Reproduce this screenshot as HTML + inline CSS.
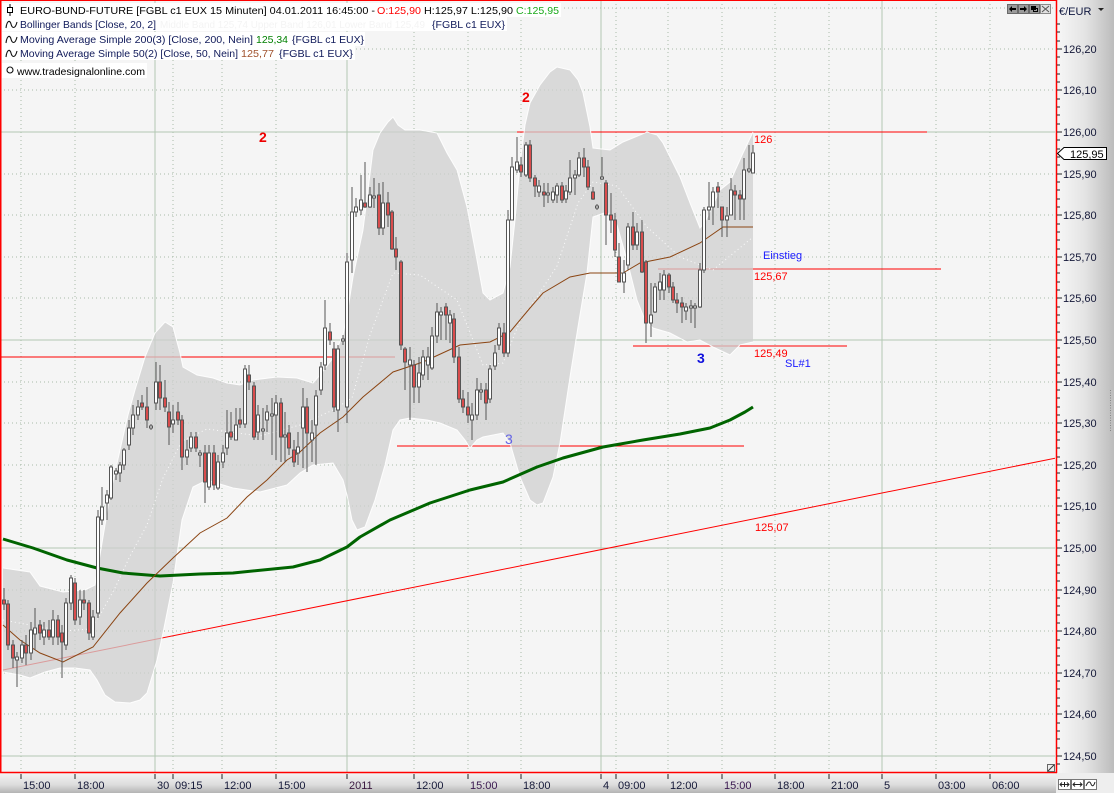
<!DOCTYPE html>
<html><head><meta charset="utf-8"><style>
html,body{margin:0;padding:0;background:#f5f5f5;}
svg{display:block;}
text{font-family:"Liberation Sans",Arial,sans-serif;}
</style></head><body>
<svg width="1114" height="793" viewBox="0 0 1114 793" xmlns="http://www.w3.org/2000/svg">
<defs>
<linearGradient id="ax" x1="0" y1="0" x2="1" y2="0"><stop offset="0" stop-color="#f7f7f7"/><stop offset="0.5" stop-color="#e4e4e4"/><stop offset="1" stop-color="#bcbcbc"/></linearGradient>
<linearGradient id="bx" x1="0" y1="0" x2="0" y2="1"><stop offset="0" stop-color="#f4f4f4"/><stop offset="0.6" stop-color="#dcdcdc"/><stop offset="1" stop-color="#b4b4b4"/></linearGradient>
<clipPath id="pc"><rect x="0" y="0" width="1055" height="772"/></clipPath>
</defs>
<rect x="0" y="0" width="1056" height="773" fill="#f5f5f5"/>
<g clip-path="url(#pc)">
<g stroke="#a9bba9" stroke-width="1" stroke-dasharray="1,3" shape-rendering="crispEdges">
<path d="M0 8H1055M0 49H1055M0 90H1055M0 174H1055M0 215H1055M0 257H1055M0 298H1055M0 382H1055M0 423H1055M0 465H1055M0 506H1055M0 590H1055M0 631H1055M0 673H1055M0 714H1055"/>
<path d="M21 0V772M75 0V772M173 0V772M222 0V772M276 0V772M414 0V772M468 0V772M521 0V772M616 0V772M668 0V772M722 0V772M775 0V772M829 0V772M936 0V772M990 0V772"/>
</g>
<g stroke="#b2c8b2" stroke-width="1" shape-rendering="crispEdges">
<path d="M0 132H1055M0 340H1055M0 548H1055M0 756H1055M155 0V772M347 0V772M601 0V772M882 0V772"/>
</g>
<g stroke="#ff0000" stroke-width="1" fill="none">
<path shape-rendering="crispEdges" d="M0 357H395M517 132H927M397 446H744M658 269H941M633 346H847"/>
<path d="M3 670L1056 458"/>
</g>
<polygon fill="#cfcfcf" fill-opacity="0.75" points="3,568 30,572 40,586 63,592 85,590 95,585 100,555 110,495 120,450 128,415 135,390 145,357 155,333 165,322 173,327 180,353 183,367 197,375 213,378 227,383 240,385 253,380 277,377 297,378 313,383 320,375 333,358 343,335 347,315 353,277 363,230 373,150 380,133 388,122 393,117 398,125 405,130 420,130 437,133 447,153 457,170 467,207 477,260 483,293 490,300 503,293 510,267 515,220 520,165 525,125 530,103 540,85 550,72 557,67 570,70 578,80 583,93 590,127 593,148 610,150 623,142 640,135 647,132 657,135 663,143 680,177 690,203 700,228 705,222 720,190 730,182 743,153 753,132 753,342 740,345 730,355 713,347 700,340 687,342 670,333 653,328 645,320 637,300 627,260 617,225 607,212 593,217 587,273 578,327 570,377 560,443 553,477 543,503 537,505 530,500 520,477 510,443 503,433 483,437 477,440 470,448 465,440 457,430 440,423 427,420 410,418 400,420 393,430 385,465 375,500 365,527 357,530 352,520 347,495 343,480 333,463 313,465 300,473 287,485 260,492 233,488 207,480 193,487 182,520 173,583 163,633 157,660 147,693 140,700 130,703 115,702 105,695 97,680 90,670 75,668 60,668 45,672 30,678 20,675 3,672"/>
<g fill="none" stroke="#ffffff" stroke-width="1" stroke-opacity="0.9">
<polyline points="3,568 30,572 40,586 63,592 85,590 95,585 100,555 110,495 120,450 128,415 135,390 145,357 155,333 165,322 173,327 180,353 183,367 197,375 213,378 227,383 240,385 253,380 277,377 297,378 313,383 320,375 333,358 343,335 347,315 353,277 363,230 373,150 380,133 388,122 393,117 398,125 405,130 420,130 437,133 447,153 457,170 467,207 477,260 483,293 490,300 503,293 510,267 515,220 520,165 525,125 530,103 540,85 550,72 557,67 570,70 578,80 583,93 590,127 593,148 610,150 623,142 640,135 647,132 657,135 663,143 680,177 690,203 700,228 705,222 720,190 730,182 743,153 753,132"/>
<polyline points="753,342 740,345 730,355 713,347 700,340 687,342 670,333 653,328 645,320 637,300 627,260 617,225 607,212 593,217 587,273 578,327 570,377 560,443 553,477 543,503 537,505 530,500 520,477 510,443 503,433 483,437 477,440 470,448 465,440 457,430 440,423 427,420 410,418 400,420 393,430 385,465 375,500 365,527 357,530 352,520 347,495 343,480 333,463 313,465 300,473 287,485 260,492 233,488 207,480 193,487 182,520 173,583 163,633 157,660 147,693 140,700 130,703 115,702 105,695 97,680 90,670 75,668 60,668 45,672 30,678 20,675 3,672"/>
<polyline stroke-dasharray="1,3" points="3,620 30,625 63,631 90,629 100,615 115,588 130,556 147,525 163,478 182,441 207,429 260,436 300,425 333,410 352,398 370,335 393,273 420,275 457,300 483,365 503,363 520,321 537,297 557,266 578,203 593,182 617,186 647,227 680,257 713,270 753,237"/>
</g>
<polyline fill="none" stroke="#006400" stroke-width="3" stroke-linejoin="round" points="3,539 33,548 67,560 97,568 123,573 160,576 200,574 233,573 293,567 320,560 347,547 360,537 390,520 430,503 470,490 503,482 537,467 563,458 603,447 643,440 680,434 710,428 730,420 745,412 753,407"/>
<polyline fill="none" stroke="#8b4513" stroke-width="1" points="3,625 20,640 40,653 63,662 93,647 120,613 147,583 173,558 200,533 227,518 247,497 267,480 287,460 300,452 320,433 343,417 363,397 393,372 423,362 460,345 490,342 510,332 530,308 543,293 570,277 590,273 623,273 640,263 670,257 700,243 723,227 737,227 753,227"/>
<path fill="none" stroke="#555" stroke-width="1" shape-rendering="crispEdges" d="M4 588V610M8 600V650M13 640V668M17 652V687M22 640V663M26 635V665M31 622V660M35 608V650M40 620V640M44 622V645M49 620V640M53 610V645M58 615V645M62 625V678M66 598V650M71 575V610M75 578V625M80 590V625M84 590V610M89 600V640M93 610V640M98 510V618M102 487V525M107 490V520M111 465V500M116 468V480M120 462V482M124 448V470M129 420V450M133 405V435M138 400V420M142 395V410M147 387V428M151 424V430M156 362V410M160 365V410M165 380V412M169 402V445M173 405V433M178 402V425M182 415V470M187 440V465M191 432V452M196 432V452M200 450V467M205 445V503M209 445V490M214 445V490M218 455V490M223 445V468M227 410V455M231 412V440M236 408V440M240 408V428M245 365V428M249 365V390M254 382V440M258 405V440M263 408V440M267 405V432M272 398V455M276 395V460M281 398V462M285 412V462M289 425V455M294 440V467M298 432V465M303 388V468M307 398V472M312 420V462M316 390V465M321 362V395M325 300V370M330 323V345M334 342V412M338 345V432M343 335V345M347 253V423M352 187V273M356 198V217M361 175V215M365 162V208M370 187V208M374 178V208M379 183V235M383 182V235M388 192V227M392 210V250M396 237V270M401 260V350M405 347V390M410 347V420M414 360V403M419 357V403M423 350V380M428 347V380M432 327V370M437 303V343M441 307V340M446 303V340M450 310V343M454 313V363M459 347V403M463 390V413M468 392V423M472 403V440M477 378V420M481 383V400M486 383V420M490 365V403M495 345V370M499 323V350M504 323V357M508 210V357M512 157V220M517 137V173M521 157V177M526 142V177M530 140V182M535 175V197M539 180V197M544 183V207M548 183V203M553 187V203M557 183V203M562 182V203M566 185V203M570 160V195M575 170V195M579 152V177M584 148V177M588 160V190M593 187V200M597 204V210M602 157V180M606 180V245M611 193V233M615 213V257M619 243V282M624 260V293M628 223V270M633 212V250M637 223V250M642 220V273M646 260V343M651 283V337M655 283V313M660 273V300M664 270V300M669 273V293M673 282V303M677 293V313M682 297V323M686 303V320M691 300V323M695 303V328M700 263V308M704 207V273M709 182V220M713 187V225M718 182V208M722 207V237M727 207V237M731 178V215M735 185V220M740 190V220M744 158V220M749 145V173M753 145V173"/>
<g fill="#ffffff" stroke="#555" stroke-width="1" shape-rendering="crispEdges">
<rect x="15.5" y="657" width="3" height="3"/><rect x="20.5" y="645" width="3" height="13"/><rect x="29.5" y="630" width="3" height="23"/><rect x="33.5" y="628" width="3" height="6"/><rect x="42.5" y="630" width="3" height="7"/><rect x="51.5" y="620" width="3" height="17"/><rect x="64.5" y="603" width="3" height="42"/><rect x="69.5" y="578" width="3" height="25"/><rect x="78.5" y="600" width="3" height="17"/><rect x="91.5" y="617" width="3" height="20"/><rect x="96.5" y="517" width="3" height="96"/><rect x="100.5" y="507" width="3" height="13"/><rect x="105.5" y="495" width="3" height="8"/><rect x="109.5" y="467" width="3" height="31"/><rect x="114.5" y="471" width="3" height="3"/><rect x="118.5" y="465" width="3" height="8"/><rect x="122.5" y="450" width="3" height="15"/><rect x="127.5" y="428" width="3" height="17"/><rect x="131.5" y="415" width="3" height="13"/><rect x="136.5" y="407" width="3" height="8"/><rect x="149.5" y="426" width="3" height="2"/><rect x="154.5" y="382" width="3" height="21"/><rect x="171.5" y="420" width="3" height="4"/><rect x="185.5" y="450" width="3" height="7"/><rect x="189.5" y="437" width="3" height="11"/><rect x="198.5" y="453" width="3" height="2"/><rect x="207.5" y="453" width="3" height="34"/><rect x="216.5" y="462" width="3" height="26"/><rect x="221.5" y="453" width="3" height="9"/><rect x="225.5" y="433" width="3" height="15"/><rect x="234.5" y="425" width="3" height="15"/><rect x="243.5" y="369" width="3" height="55"/><rect x="256.5" y="415" width="3" height="17"/><rect x="261.5" y="429" width="3" height="2"/><rect x="265.5" y="412" width="3" height="8"/><rect x="270.5" y="414" width="3" height="2"/><rect x="274.5" y="403" width="3" height="12"/><rect x="283.5" y="435" width="3" height="2"/><rect x="296.5" y="447" width="3" height="6"/><rect x="301.5" y="407" width="3" height="21"/><rect x="310.5" y="433" width="3" height="7"/><rect x="314.5" y="396" width="3" height="29"/><rect x="319.5" y="367" width="3" height="23"/><rect x="323.5" y="328" width="3" height="37"/><rect x="336.5" y="349" width="3" height="61"/><rect x="341.5" y="339" width="3" height="2"/><rect x="345.5" y="262" width="3" height="145"/><rect x="350.5" y="212" width="3" height="48"/><rect x="354.5" y="207" width="3" height="5"/><rect x="359.5" y="200" width="3" height="10"/><rect x="368.5" y="195" width="3" height="12"/><rect x="372.5" y="196" width="3" height="2"/><rect x="381.5" y="203" width="3" height="25"/><rect x="408.5" y="360" width="3" height="5"/><rect x="417.5" y="373" width="3" height="14"/><rect x="421.5" y="357" width="3" height="18"/><rect x="426.5" y="357" width="3" height="8"/><rect x="430.5" y="336" width="3" height="32"/><rect x="435.5" y="312" width="3" height="24"/><rect x="439.5" y="312" width="3" height="3"/><rect x="448.5" y="315" width="3" height="8"/><rect x="470.5" y="415" width="3" height="5"/><rect x="475.5" y="390" width="3" height="25"/><rect x="479.5" y="390" width="3" height="2"/><rect x="488.5" y="369" width="3" height="30"/><rect x="493.5" y="353" width="3" height="13"/><rect x="497.5" y="328" width="3" height="17"/><rect x="506.5" y="220" width="3" height="133"/><rect x="510.5" y="167" width="3" height="53"/><rect x="515.5" y="162" width="3" height="8"/><rect x="524.5" y="145" width="3" height="30"/><rect x="537.5" y="186" width="3" height="6"/><rect x="546.5" y="193" width="3" height="2"/><rect x="551.5" y="192" width="3" height="8"/><rect x="555.5" y="186" width="3" height="9"/><rect x="564.5" y="191" width="3" height="8"/><rect x="568.5" y="178" width="3" height="14"/><rect x="573.5" y="175" width="3" height="3"/><rect x="577.5" y="158" width="3" height="17"/><rect x="595.5" y="206" width="3" height="2"/><rect x="600.5" y="177" width="3" height="2"/><rect x="622.5" y="273" width="3" height="9"/><rect x="626.5" y="227" width="3" height="38"/><rect x="635.5" y="232" width="3" height="13"/><rect x="649.5" y="315" width="3" height="8"/><rect x="653.5" y="287" width="3" height="25"/><rect x="658.5" y="282" width="3" height="8"/><rect x="662.5" y="275" width="3" height="15"/><rect x="684.5" y="307" width="3" height="4"/><rect x="689.5" y="306" width="3" height="2"/><rect x="693.5" y="306" width="3" height="2"/><rect x="698.5" y="270" width="3" height="37"/><rect x="702.5" y="210" width="3" height="60"/><rect x="707.5" y="207" width="3" height="3"/><rect x="711.5" y="192" width="3" height="15"/><rect x="725.5" y="216" width="3" height="4"/><rect x="729.5" y="190" width="3" height="25"/><rect x="742.5" y="170" width="3" height="29"/><rect x="747.5" y="169" width="3" height="2"/><rect x="751.5" y="153" width="3" height="20"/>
</g>
<g fill="#d94c4c" stroke="#555" stroke-width="1" shape-rendering="crispEdges">
<rect x="2.5" y="600" width="3" height="4"/><rect x="6.5" y="604" width="3" height="41"/><rect x="11.5" y="645" width="3" height="13"/><rect x="24.5" y="645" width="3" height="8"/><rect x="38.5" y="625" width="3" height="8"/><rect x="47.5" y="630" width="3" height="7"/><rect x="56.5" y="620" width="3" height="17"/><rect x="60.5" y="633" width="3" height="9"/><rect x="73.5" y="583" width="3" height="37"/><rect x="82.5" y="600" width="3" height="3"/><rect x="87.5" y="603" width="3" height="30"/><rect x="140.5" y="403" width="3" height="4"/><rect x="145.5" y="407" width="3" height="13"/><rect x="158.5" y="382" width="3" height="16"/><rect x="163.5" y="398" width="3" height="9"/><rect x="167.5" y="412" width="3" height="15"/><rect x="176.5" y="412" width="3" height="8"/><rect x="180.5" y="420" width="3" height="37"/><rect x="194.5" y="437" width="3" height="11"/><rect x="203.5" y="453" width="3" height="29"/><rect x="212.5" y="453" width="3" height="32"/><rect x="229.5" y="432" width="3" height="5"/><rect x="238.5" y="420" width="3" height="4"/><rect x="247.5" y="375" width="3" height="7"/><rect x="252.5" y="386" width="3" height="51"/><rect x="279.5" y="403" width="3" height="34"/><rect x="287.5" y="433" width="3" height="15"/><rect x="292.5" y="450" width="3" height="12"/><rect x="305.5" y="407" width="3" height="26"/><rect x="328.5" y="332" width="3" height="8"/><rect x="332.5" y="349" width="3" height="58"/><rect x="363.5" y="203" width="3" height="4"/><rect x="377.5" y="195" width="3" height="33"/><rect x="386.5" y="203" width="3" height="12"/><rect x="390.5" y="212" width="3" height="37"/><rect x="394.5" y="249" width="3" height="8"/><rect x="399.5" y="262" width="3" height="83"/><rect x="403.5" y="349" width="3" height="13"/><rect x="412.5" y="365" width="3" height="22"/><rect x="444.5" y="307" width="3" height="8"/><rect x="452.5" y="319" width="3" height="38"/><rect x="457.5" y="357" width="3" height="42"/><rect x="461.5" y="399" width="3" height="8"/><rect x="466.5" y="407" width="3" height="8"/><rect x="484.5" y="390" width="3" height="13"/><rect x="502.5" y="333" width="3" height="20"/><rect x="519.5" y="165" width="3" height="7"/><rect x="528.5" y="145" width="3" height="33"/><rect x="533.5" y="178" width="3" height="8"/><rect x="542.5" y="192" width="3" height="3"/><rect x="560.5" y="186" width="3" height="14"/><rect x="582.5" y="158" width="3" height="9"/><rect x="586.5" y="167" width="3" height="20"/><rect x="591.5" y="192" width="3" height="7"/><rect x="604.5" y="183" width="3" height="32"/><rect x="609.5" y="215" width="3" height="5"/><rect x="613.5" y="220" width="3" height="30"/><rect x="617.5" y="257" width="3" height="25"/><rect x="631.5" y="227" width="3" height="18"/><rect x="640.5" y="232" width="3" height="40"/><rect x="644.5" y="262" width="3" height="61"/><rect x="667.5" y="275" width="3" height="12"/><rect x="671.5" y="287" width="3" height="13"/><rect x="675.5" y="300" width="3" height="3"/><rect x="680.5" y="303" width="3" height="4"/><rect x="716.5" y="187" width="3" height="5"/><rect x="720.5" y="207" width="3" height="13"/><rect x="733.5" y="191" width="3" height="4"/><rect x="738.5" y="195" width="3" height="4"/>
</g>
<g font-size="14" font-weight="bold">
<text x="259" y="142" fill="#ee0000">2</text>
<text x="522" y="102" fill="#ee0000">2</text>
<text x="505" y="444" fill="#6464e6" font-weight="normal">3</text>
<text x="697" y="363" fill="#1010dd">3</text>
</g>
<g font-size="11">
<text x="754" y="143" fill="#ff0000">126</text>
<text x="763" y="259" fill="#1a1aff">Einstieg</text>
<text x="754" y="280" fill="#ff0000">125,67</text>
<text x="754" y="357" fill="#ff0000">125,49</text>
<text x="785" y="367" fill="#1a1aff">SL#1</text>
<text x="755" y="531" fill="#ff0000">125,07</text>
</g>
</g>
<path d="M0 0.5H1056" stroke="#ff0000" stroke-width="1"/>
<g>
<rect x="2" y="3" width="559" height="14" fill="#ffffff"/>
<rect x="2" y="17" width="505" height="14" fill="#ffffff"/>
<rect x="2" y="32" width="363" height="14" fill="#ffffff"/>
<rect x="2" y="46" width="353" height="14" fill="#ffffff"/>
<rect x="2" y="63" width="145" height="15" fill="#ffffff"/>
<path d="M10 4V16" stroke="#000" stroke-width="1"/>
<rect x="7.5" y="7.5" width="5" height="5" fill="#fff" stroke="#000" stroke-width="1"/>
<g fill="none" stroke="#111" stroke-width="1.1">
<path d="M6 28C7 20 10 20 11 24S15 30 17 22"/>
<path d="M6 43C7 35 10 35 11 39S15 45 17 37"/>
<path d="M6 57C7 49 10 49 11 53S15 59 17 51"/>
<circle cx="10" cy="70" r="3"/>
</g>
<g font-size="10.5">
<text x="20" y="14" fill="#000" textLength="355" lengthAdjust="spacingAndGlyphs">EURO-BUND-FUTURE [FGBL c1 EUX  15 Minuten] 04.01.2011 16:45:00 -</text>
<text x="377" y="14" fill="#ff0000" textLength="44" lengthAdjust="spacingAndGlyphs">O:125,90</text>
<text x="424" y="14" fill="#000" textLength="89" lengthAdjust="spacingAndGlyphs">H:125,97 L:125,90</text>
<text x="516" y="14" fill="#1aaa1a" textLength="43" lengthAdjust="spacingAndGlyphs">C:125,95</text>
<text x="20" y="28" fill="#101a5a" textLength="136" lengthAdjust="spacingAndGlyphs">Bollinger Bands [Close, 20, 2]</text>
<text x="160" y="28" fill="#f4f4f4" textLength="265" lengthAdjust="spacingAndGlyphs">Middle Band 125,74 Upper Band 126,01 Lower Band 125,49</text>
<text x="432" y="28" fill="#101a5a" textLength="73" lengthAdjust="spacingAndGlyphs">{FGBL c1 EUX}</text>
<text x="20" y="43" fill="#101a5a" textLength="233" lengthAdjust="spacingAndGlyphs">Moving Average Simple 200(3) [Close, 200, Nein]</text>
<text x="256" y="43" fill="#008000" textLength="32" lengthAdjust="spacingAndGlyphs">125,34</text>
<text x="292" y="43" fill="#101a5a" textLength="72" lengthAdjust="spacingAndGlyphs">{FGBL c1 EUX}</text>
<text x="20" y="57" fill="#101a5a" textLength="218" lengthAdjust="spacingAndGlyphs">Moving Average Simple 50(2) [Close, 50, Nein]</text>
<text x="241" y="57" fill="#a0522d" textLength="33" lengthAdjust="spacingAndGlyphs">125,77</text>
<text x="279" y="57" fill="#101a5a" textLength="74" lengthAdjust="spacingAndGlyphs">{FGBL c1 EUX}</text>
<text x="17" y="75" fill="#000" textLength="128" lengthAdjust="spacingAndGlyphs">www.tradesignalonline.com</text>
</g>
</g>
<g shape-rendering="crispEdges">
<rect x="1007.5" y="4.5" width="10" height="9" fill="#9a9a9a" stroke="#6a6a6a"/>
<rect x="1018.5" y="4.5" width="10" height="9" fill="#9a9a9a" stroke="#6a6a6a"/>
<rect x="1029.5" y="4.5" width="10" height="9" fill="#9a9a9a" stroke="#6a6a6a"/>
<rect x="1040.5" y="4.5" width="10" height="9" fill="#e0e0e0" stroke="#8a8a8a"/>
</g>
<path d="M1009 9L1012 6V8H1016V10H1012V12Z" fill="#000"/>
<path d="M1027 9L1024 6V8H1020V10H1024V12Z" fill="#000"/>
<rect x="1033.5" y="8.5" width="4" height="3" fill="none" stroke="#000"/>
<rect x="1031.5" y="6.5" width="4" height="3" fill="#000" stroke="#000"/>
<path d="M1042 6L1049 12M1049 6L1042 12" stroke="#555" stroke-width="1"/>
<rect x="1056" y="0" width="58" height="793" fill="url(#ax)"/>
<path d="M1056.5 0V773" stroke="#ff0000" stroke-width="1.5"/>
<text x="1059" y="15" font-size="11" fill="#101840">€/EUR</text>
<path d="M1098 8H1104L1101 11Z" fill="#222"/>
<path stroke="#222" stroke-width="1" shape-rendering="crispEdges" fill="none" d="M1057 24h3M1057 32h3M1057 41h3M1057 49h5M1057 57h3M1057 65h3M1057 74h3M1057 82h3M1057 90h5M1057 99h3M1057 107h3M1057 115h3M1057 124h3M1057 132h5M1057 140h3M1057 149h3M1057 157h3M1057 165h3M1057 174h5M1057 182h3M1057 190h3M1057 199h3M1057 207h3M1057 215h5M1057 224h3M1057 232h3M1057 240h3M1057 249h3M1057 257h5M1057 265h3M1057 273h3M1057 282h3M1057 290h3M1057 298h5M1057 307h3M1057 315h3M1057 323h3M1057 332h3M1057 340h5M1057 348h3M1057 357h3M1057 365h3M1057 373h3M1057 382h5M1057 390h3M1057 398h3M1057 407h3M1057 415h3M1057 423h5M1057 432h3M1057 440h3M1057 448h3M1057 457h3M1057 465h5M1057 473h3M1057 481h3M1057 490h3M1057 498h3M1057 506h5M1057 515h3M1057 523h3M1057 531h3M1057 540h3M1057 548h5M1057 556h3M1057 565h3M1057 573h3M1057 581h3M1057 590h5M1057 598h3M1057 606h3M1057 615h3M1057 623h3M1057 631h5M1057 640h3M1057 648h3M1057 656h3M1057 665h3M1057 673h5M1057 681h3M1057 689h3M1057 698h3M1057 706h3M1057 714h5M1057 723h3M1057 731h3M1057 739h3M1057 748h3M1057 756h5M1057 764h3"/>
<g font-size="11" fill="#141838">
<text x="1063" y="53">126,20</text>
<text x="1063" y="94">126,10</text>
<text x="1063" y="136">126,00</text>
<text x="1063" y="178">125,90</text>
<text x="1063" y="219">125,80</text>
<text x="1063" y="261">125,70</text>
<text x="1063" y="302">125,60</text>
<text x="1063" y="344">125,50</text>
<text x="1063" y="386">125,40</text>
<text x="1063" y="427">125,30</text>
<text x="1063" y="469">125,20</text>
<text x="1063" y="510">125,10</text>
<text x="1063" y="552">125,00</text>
<text x="1063" y="594">124,90</text>
<text x="1063" y="635">124,80</text>
<text x="1063" y="677">124,70</text>
<text x="1063" y="718">124,60</text>
<text x="1063" y="760">124,50</text>
</g>
<path d="M1057.5 153.5L1064 147.5H1106.5V159.5H1064Z" fill="#ffffff" stroke="#000" stroke-width="1"/>
<text x="1070" y="158" font-size="11" fill="#000">125,95</text>
<path d="M1110.5 390V432" stroke="#888" stroke-width="1" stroke-dasharray="1,1.5"/>
<rect x="0" y="773" width="1056" height="20" fill="url(#bx)"/>
<rect x="1056" y="773" width="58" height="20" fill="#eeeeee"/>
<path d="M0 772.5H1057" stroke="#ff0000" stroke-width="1.5"/>
<path d="M0.75 0V773" stroke="#ff0000" stroke-width="1.5"/>
<path stroke="#222" stroke-width="1" shape-rendering="crispEdges" d="M21 774v5M75 774v5M155 774v5M173 774v5M222 774v5M276 774v5M347 774v5M414 774v5M468 774v5M521 774v5M601 774v5M616 774v5M668 774v5M722 774v5M775 774v5M829 774v5M882 774v5M936 774v5M990 774v5"/>
<g font-size="11" fill="#141838">
<text x="23" y="789">15:00</text>
<text x="77" y="789">18:00</text>
<text x="157" y="789">30</text>
<text x="175" y="789">09:15</text>
<text x="224" y="789">12:00</text>
<text x="278" y="789">15:00</text>
<text x="349" y="789" fill="#3a1840">2011</text>
<text x="416" y="789">12:00</text>
<text x="470" y="789" fill="#3a1850">15:00</text>
<text x="523" y="789">18:00</text>
<text x="603" y="789">4</text>
<text x="618" y="789">09:00</text>
<text x="670" y="789">12:00</text>
<text x="724" y="789" fill="#3a1850">15:00</text>
<text x="777" y="789">18:00</text>
<text x="831" y="789">21:00</text>
<text x="884" y="789">5</text>
<text x="938" y="789">03:00</text>
<text x="992" y="789">06:00</text>
</g>
<g shape-rendering="crispEdges" fill="#ffffff" stroke="#777">
<rect x="1058.5" y="779.5" width="12" height="10"/>
<rect x="1071.5" y="779.5" width="12" height="10"/>
<rect x="1084.5" y="779.5" width="12" height="10"/>
</g>
<path d="M1060 784.5H1069M1062 782.5L1060 784.5L1062 786.5M1067 782.5L1069 784.5L1067 786.5M1064.5 782V787M1073 784.5H1082M1075 782.5L1073 784.5L1075 786.5M1080 782.5L1082 784.5L1080 786.5M1086 786C1088 781 1090 781 1091 784S1094 786 1095 782" stroke="#222" stroke-width="1" fill="none"/>
<rect x="1047.5" y="764.5" width="7" height="7" fill="#eee" stroke="#666" shape-rendering="crispEdges"/>
<path d="M1048 771L1054 765" stroke="#333" stroke-width="1"/>
</svg>
</body></html>
